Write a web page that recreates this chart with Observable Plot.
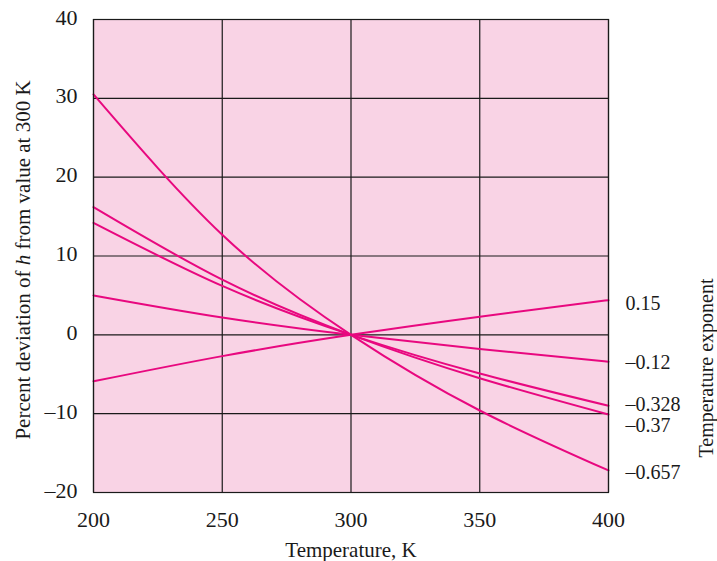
<!DOCTYPE html>
<html><head><meta charset="utf-8">
<script src="https://cdn.jsdelivr.net/npm/d3@7"></script>
<script src="https://cdn.jsdelivr.net/npm/@observablehq/plot@0.6"></script>
<style>
body{margin:0;background:#fff}
g[aria-label$="tick label"], g[aria-label$="tick label"] text{font-size:22px !important}
</style>
</head><body><div id="chart"></div>
<script>
const temps = [200, 250, 300, 350, 400];
const exponents = ["0.15", "–0.12", "–0.328", "–0.37", "–0.657"];
const s015 = [-5.9, -2.7, 0, 2.3, 4.4];
const s012 = [5.0, 2.2, 0, -1.8, -3.4];
const s0328 = [14.2, 6.2, 0, -4.9, -9.0];
const s037 = [16.2, 7.0, 0, -5.5, -10.1];
const s0657 = [30.5, 12.7, 0, -9.6, -17.2];
const xTicks = [200, 250, 300, 350, 400];
const yTicks = [-20, -10, 0, 10, 20, 30, 40];
const labelShift = [-0.4, -0.1, 0.2, -1.4, -0.3];

const seriesList = [s015, s012, s0328, s037, s0657];
const rows = [];
seriesList.forEach((s, i) => s.forEach((v, j) => rows.push({T: temps[j], v, e: exponents[i]})));
const labels = seriesList.map((s, i) => ({e: exponents[i], v: s[s.length - 1] + labelShift[i]}));

const fmt = d => d < 0 ? "–" + (-d) : String(d);
const lineColor = "#e8087f";
const ink = "#1a1a1a";

const chart = Plot.plot({
  width: 717, height: 561,
  marginLeft: 93, marginRight: 109, marginTop: 19, marginBottom: 69,
  style: {fontFamily: "Liberation Serif, Times New Roman, serif", fontSize: "21px", color: ink, background: "#fff"},
  x: {domain: [200, 400]},
  y: {domain: [-20, 40]},
  marks: [
    Plot.frame({fill: "#f9d3e5"}),
    Plot.ruleX(xTicks, {stroke: ink, strokeWidth: 1.2}),
    Plot.ruleY(yTicks, {stroke: ink, strokeWidth: 1.2}),
    Plot.line(rows, {x: "T", y: "v", z: "e", stroke: lineColor, strokeWidth: 2, curve: "natural"}),
    Plot.frame({stroke: ink, strokeWidth: 1.2}),
    Plot.axisX({ticks: xTicks, tickFormat: fmt, tickSize: 0, tickPadding: 19, fontSize: 22, label: null}),
    Plot.axisY({ticks: yTicks, tickFormat: fmt, tickSize: 0, tickPadding: 16, fontSize: 22, dy: -2, label: null}),
    Plot.text(labels, {x: 400, y: "v", text: "e", dx: 17, textAnchor: "start", fontSize: 20, fill: ink}),
    Plot.text(["Percent deviation of "], {frameAnchor: "left", textAnchor: "middle", lineAnchor: "middle", dx: -70, dy: 4, rotate: -90, text: d => d, fontSize: 21, fill: ink}),
    Plot.text(["Temperature, K"], {frameAnchor: "bottom", textAnchor: "middle", lineAnchor: "middle", dy: 58, text: d => d, fontSize: 21, fill: ink}),
    Plot.text(["Temperature exponent"], {frameAnchor: "right", textAnchor: "middle", lineAnchor: "middle", dx: 98, dy: 112, rotate: -90, text: d => d, fontSize: 20, fill: ink})
  ]
});
const svg = d3.select(chart);
svg.selectAll('g[aria-label$="tick label"]').attr("font-size", 22).selectAll("text").attr("font-size", 22);
svg.selectAll("text").filter(function(){return this.textContent === "Percent deviation of ";}).each(function(){
  const t = d3.select(this);
  t.text(null);
  t.append("tspan").text("Percent deviation of ");
  t.append("tspan").attr("font-style", "italic").text("h");
  t.append("tspan").text(" from value at 300 K");
});
document.getElementById("chart").appendChild(chart);
</script></body></html>
